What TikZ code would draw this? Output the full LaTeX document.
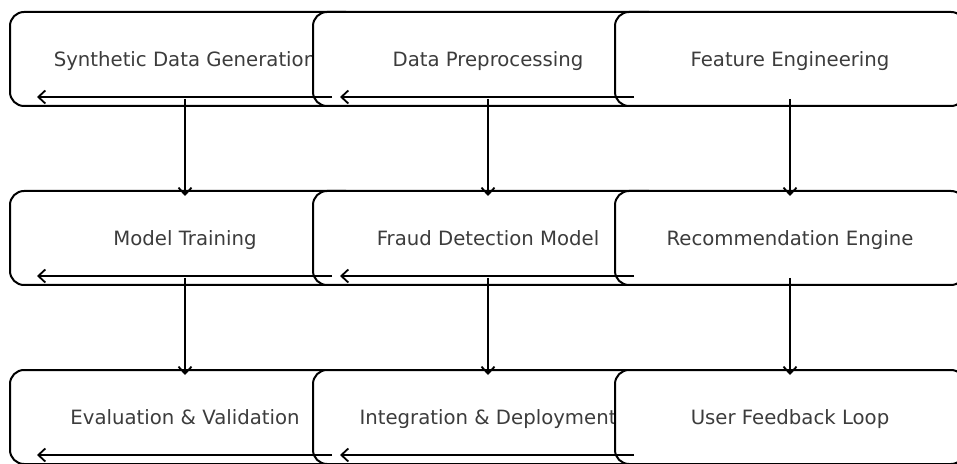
\documentclass[tikz,border=0pt]{standalone}
\usepackage{fontspec}
\setmainfont{DejaVu Sans}
\usetikzlibrary{arrows.meta}
\definecolor{txt}{HTML}{3C3C3C}
\tikzset{
  stage/.style={draw=black, fill=white, line width=1pt, rounded corners=7pt,
    minimum width=175pt, minimum height=47pt, inner sep=0pt,
    text height=0.73em, text depth=0pt,
    font=\fontsize{9.85pt}{11pt}\selectfont, text=txt},
  flow/.style={draw=black, line width=0.9pt, -{Straight Barb[length=3.5pt,width=6.5pt,line width=0.9pt]}}
}
\begin{document}
\begin{tikzpicture}[x=0.5pt,y=-0.5pt]
\useasboundingbox (0,0) rectangle (957,464);
\begin{scope}
\clip (0,0) rectangle (957,464);
\node[stage] (b11) at (185,59) {Synthetic Data Generation};
\node[stage] (b12) at (488,59) {Data Preprocessing};
\node[stage] (b13) at (790,59) {Feature Engineering};
\node[stage] (b21) at (185,238) {Model Training};
\node[stage] (b22) at (488,238) {Fraud Detection Model};
\node[stage] (b23) at (790,238) {Recommendation Engine};
\node[stage] (b31) at (185,417) {Evaluation \& Validation};
\node[stage] (b32) at (488,417) {Integration \& Deployment};
\node[stage] (b33) at (790,417) {User Feedback Loop};
\foreach \r in {1,2,3}{
  \draw[flow] ([shift={(10pt,5pt)}]b\r2.south west) -- ([shift={(14pt,5pt)}]b\r1.south west);
  \draw[flow] ([shift={(10pt,5pt)}]b\r3.south west) -- ([shift={(14pt,5pt)}]b\r2.south west);
}
\foreach \c in {1,2,3}{
  \draw[flow] ([yshift=4pt]b1\c.south) -- ([yshift=-3pt]b2\c.north);
  \draw[flow] ([yshift=4pt]b2\c.south) -- ([yshift=-3pt]b3\c.north);
}
\end{scope}
\end{tikzpicture}
\end{document}
